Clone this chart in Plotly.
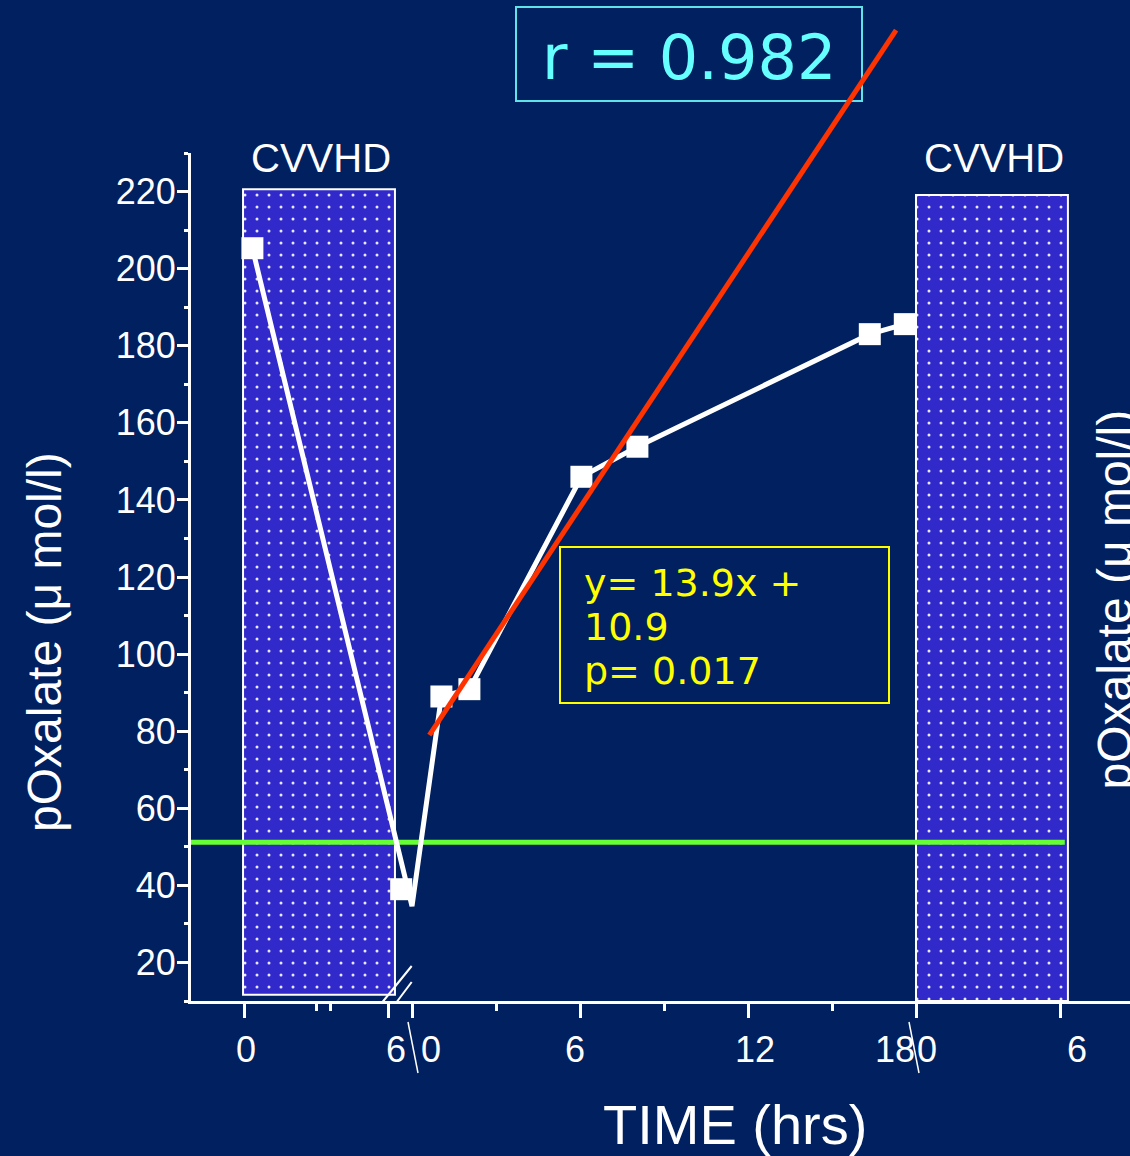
import plotly.graph_objects as go

# ---------------------------------------------------------------------------
# Data: plasma oxalate (µmol/l) around two CVVHD sessions
# Time axis is split into three segments (hours within each segment):
#   A = first CVVHD session, B = interdialytic interval, C = second CVVHD
# ---------------------------------------------------------------------------
cvvhd_hours_a = [0.35, 6.55]
cvvhd_oxalate_a = [205.3, 39.0]

interval_hours_b = [1.05, 2.05, 6.05, 8.05, 16.35, 17.6]
interval_oxalate_b = [89.0, 90.9, 146.0, 153.8, 183.0, 185.6]

# lowest point of the connecting trace at the start of the interval
trough_hour_b = 0.0
trough_oxalate = 34.6

# regression line drawn over the interval
regression_hours_b = [0.62, 17.29]
regression_oxalate = [79.0, 261.9]

# reference level
target_oxalate = 51.2

# CVVHD sessions (shaded blocks)
session_segments = ["A", "C"]
session_start_h = [-0.04, 0.0]
session_end_h = [6.29, 6.33]
session_top = [220.6, 219.1]
session_bottom = [11.6, 10.0]
session_labels = ["CVVHD", "CVVHD"]

# axis ticks
y_major = [20, 40, 60, 80, 100, 120, 140, 160, 180, 200, 220]
y_minor = [10, 30, 50, 70, 90, 110, 130, 150, 170, 190, 210, 230]
x_major = [("A", 0), ("A", 6), ("B", 0), ("B", 6), ("B", 12), ("B", 18), ("C", 6)]
x_minor = [("A", 3), ("A", 3.6), ("B", 3), ("B", 9), ("B", 15)]
x_labels = [("A", 0, "0"), ("A", 6, "6"), ("B", 0, "0"), ("B", 6, "6"),
            ("B", 12, "12"), ("B", 18, "18"), ("C", 0, "0"), ("C", 6, "6")]

regression_text = ["y= 13.9x +", "10.9", "p= 0.017"]
r_text = "r = 0.982"

# ---------------------------------------------------------------------------
# Segmented time scale -> continuous axis position
# ---------------------------------------------------------------------------
SEG_START = {"A": 0.0, "B": 7.0, "C": 28.0}
SEG_SCALE = {"A": 1.0, "B": 7.0 / 6.0, "C": 1.0}


def pos(seg, h):
    return SEG_START[seg] + SEG_SCALE[seg] * h


# page geometry
W, H = 1130, 1156
M_L, M_R, M_T, M_B = 191, 0, 20, 155
PLOT_W = W - M_L - M_R
PLOT_H = H - M_T - M_B
Y_LO, Y_HI = 10, 230
Y_AXIS_TOP_PX = 153
Y_DOM_TOP = (H - M_B - Y_AXIS_TOP_PX) / PLOT_H
Y2_HI = Y_LO + (Y_HI - Y_LO) / Y_DOM_TOP
PX_PER_UNIT = 24.0
X_LO = (M_L - 244) / PX_PER_UNIT
X_HI = X_LO + PLOT_W / PX_PER_UNIT


def px(xpix):
    return (xpix - M_L) / PLOT_W


def py(ypix):
    return (H - M_B - ypix) / PLOT_H


BG = "#00205F"
BLOCK = "#3129C9"
WHITE = "white"
SANS = "Liberation Sans, Arial, sans-serif"
VERD = "DejaVu Sans, Verdana, sans-serif"

fig = go.Figure()

# CVVHD blocks
for seg, s, e, top, bot in zip(session_segments, session_start_h, session_end_h,
                               session_top, session_bottom):
    x0, x1 = pos(seg, s), pos(seg, e)
    fig.add_trace(go.Bar(
        x=[(x0 + x1) / 2], y=[top - bot], base=[bot], width=[x1 - x0],
        marker=dict(color=BLOCK, line=dict(color=WHITE, width=2),
                    pattern=dict(shape=".", fgcolor="#E8E8FF", size=12,
                                 solidity=0.05, fgopacity=1)),
        showlegend=False, hoverinfo="skip",
    ))

# reference level
fig.add_trace(go.Scatter(
    x=[X_LO, pos("C", 6.2)], y=[target_oxalate, target_oxalate],
    mode="lines", line=dict(color="#66FF33", width=5),
    showlegend=False, hoverinfo="skip",
))

# connecting trace
line_x = [pos("A", cvvhd_hours_a[0]), pos("B", trough_hour_b)] + \
         [pos("B", h) for h in interval_hours_b]
line_y = [cvvhd_oxalate_a[0], trough_oxalate] + interval_oxalate_b
fig.add_trace(go.Scatter(
    x=line_x, y=line_y, mode="lines", line=dict(color=WHITE, width=5),
    showlegend=False, hoverinfo="skip",
))

# measured points
pts_x = [pos("A", h) for h in cvvhd_hours_a] + [pos("B", h) for h in interval_hours_b]
pts_y = cvvhd_oxalate_a + interval_oxalate_b
fig.add_trace(go.Scatter(
    x=pts_x, y=pts_y, mode="markers",
    marker=dict(symbol="square", size=22, color=WHITE, line=dict(width=0)),
    showlegend=False,
))

# regression line (on an extended copy of the y scale so it may rise above 230)
fig.add_trace(go.Scatter(
    x=[pos("B", h) for h in regression_hours_b], y=regression_oxalate,
    mode="lines", line=dict(color="#FF3300", width=5),
    xaxis="x", yaxis="y2", showlegend=False, hoverinfo="skip",
))

annotations = []
shapes = []

# x tick labels (nudged like the hand-placed slide labels)
label_nudge = [2, 8, 19, -5, 7, -21, 11, 17]
for (seg, h, txt), dx in zip(x_labels, label_nudge):
    annotations.append(dict(
        x=pos(seg, h), xref="x", y=py(1049), yref="paper", text=txt,
        showarrow=False, xshift=dx, xanchor="center", yanchor="middle",
        font=dict(family=SANS, size=36, color=WHITE),
    ))

# break separators between the tick labels
for seg, h, a, b in [("B", 0, -4, 6), ("B", 18, -7, 3)]:
    shapes.append(dict(
        type="line", xref="x", yref="paper", xsizemode="pixel",
        xanchor=pos(seg, h), x0=a, x1=b, y0=py(1022), y1=py(1073),
        line=dict(color=WHITE, width=1.5), layer="above",
    ))

# axis break marks
for a0, a1, b0, b1 in [(-6.3, 23.7, -2, 35), (8.7, 23.7, -1, 19)]:
    shapes.append(dict(
        type="line", xref="x", yref="paper", xsizemode="pixel",
        ysizemode="pixel", xanchor=pos("A", 6), yanchor=0,
        x0=a0, x1=a1, y0=b0, y1=b1,
        line=dict(color=WHITE, width=2), layer="above",
    ))

# session labels
for seg, s, e, lab, dx in zip(session_segments, session_start_h, session_end_h,
                              session_labels, [2, 2]):
    annotations.append(dict(
        x=(pos(seg, s) + pos(seg, e)) / 2, xref="x", y=py(158), yref="paper",
        text=lab, showarrow=False, xshift=dx, yanchor="middle",
        font=dict(family=SANS, size=40, color=WHITE),
    ))

# axis titles
ytitle = "pOxalate (μ mol/l)"
annotations.append(dict(
    x=px(44), y=py(642), xref="paper", yref="paper", text=ytitle,
    textangle=-90, showarrow=False, xanchor="center", yanchor="middle",
    font=dict(family=SANS, size=48, color=WHITE),
))
annotations.append(dict(
    x=px(1085), y=py(600), xref="paper", yref="paper", text=ytitle,
    textangle=-90, showarrow=False, xanchor="left", yanchor="middle",
    font=dict(family=SANS, size=48, color=WHITE),
))
annotations.append(dict(
    x=px(735), y=py(1124), xref="paper", yref="paper", text="TIME (hrs)",
    showarrow=False, xanchor="center", yanchor="middle",
    font=dict(family=SANS, size=56, color=WHITE),
))

# correlation box
shapes.append(dict(
    type="rect", xref="paper", yref="paper",
    x0=px(516), x1=px(862), y0=py(101), y1=py(7),
    line=dict(color="#5FE3E8", width=2), layer="below",
))
annotations.append(dict(
    x=px(689), y=py(57), xref="paper", yref="paper", text=r_text,
    showarrow=False, xanchor="center", yanchor="middle",
    font=dict(family=VERD, size=62, color="#66FFFF"),
))

# regression box
shapes.append(dict(
    type="rect", xref="paper", yref="paper",
    x0=px(560), x1=px(889), y0=py(703), y1=py(547),
    line=dict(color="#FFFF00", width=2), layer="above",
))
for i, txt in enumerate(regression_text):
    annotations.append(dict(
        x=px(582), y=py(583 + 44 * i), xref="paper", yref="paper", text=txt,
        showarrow=False, xanchor="left", yanchor="middle",
        font=dict(family=VERD, size=38, color="#FFFF00"),
    ))

fig.update_layout(
    width=W, height=H,
    margin=dict(l=M_L, r=M_R, t=M_T, b=M_B, pad=0),
    paper_bgcolor=BG, plot_bgcolor="rgba(0,0,0,0)",
    barmode="overlay", showlegend=False,
    xaxis=dict(
        range=[X_LO, X_HI], domain=[0, 1], anchor="y",
        showgrid=False, zeroline=False,
        showline=True, linecolor=WHITE, linewidth=3,
        tickmode="array", tickvals=[pos(s, h) for s, h in x_major],
        ticks="outside", ticklen=14, tickwidth=3, tickcolor=WHITE,
        showticklabels=False,
        minor=dict(tickvals=[pos(s, h) for s, h in x_minor], ticks="outside",
                   ticklen=7, tickwidth=3, tickcolor=WHITE, showgrid=False),
    ),
    yaxis=dict(
        range=[Y_LO, Y_HI], domain=[0, Y_DOM_TOP], anchor="x",
        showgrid=False, zeroline=False,
        showline=True, linecolor=WHITE, linewidth=3,
        tickmode="array", tickvals=y_major,
        ticks="outside", ticklen=11, tickwidth=3, tickcolor=WHITE,
        tickfont=dict(family=SANS, size=36, color=WHITE),
        ticklabelstandoff=-6,
        minor=dict(tickvals=y_minor, ticks="outside", ticklen=4,
                   tickwidth=3, tickcolor=WHITE, showgrid=False),
    ),
    yaxis2=dict(
        range=[Y_LO, Y2_HI], domain=[0, 1], anchor="x", visible=False,
        showgrid=False, zeroline=False,
    ),
    annotations=annotations,
    shapes=shapes,
)

fig.write_html("out.html")
